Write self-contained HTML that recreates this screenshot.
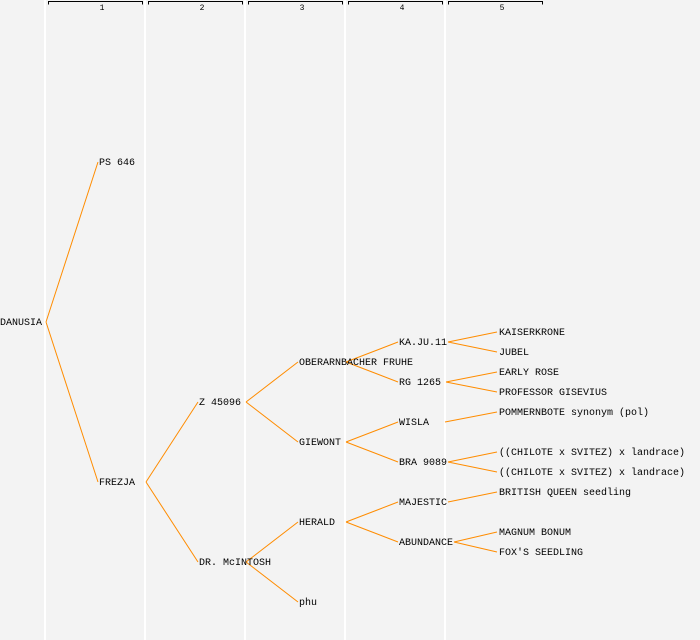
<!DOCTYPE html>
<html><head><style>
body{margin:0;background:#f3f3f3;}
svg{display:block}
text{font-family:"Liberation Mono",monospace;font-size:10px;fill:#000}
</style></head><body>
<svg width="700" height="640" xmlns="http://www.w3.org/2000/svg">
<rect width="700" height="640" fill="#f3f3f3"/>
<g stroke="#fff" stroke-width="2">
<line x1="45" y1="0" x2="45" y2="640"/><line x1="145" y1="0" x2="145" y2="640"/><line x1="245" y1="0" x2="245" y2="640"/><line x1="345" y1="0" x2="345" y2="640"/><line x1="445" y1="0" x2="445" y2="640"/>
</g>
<g stroke="#000" stroke-width="1" fill="none">
<path d="M48.5 4.5V1.5H142.5V4.5"/><path d="M148.5 4.5V1.5H242.5V4.5"/><path d="M248.5 4.5V1.5H342.5V4.5"/><path d="M348.5 4.5V1.5H442.5V4.5"/><path d="M448.5 4.5V1.5H542.5V4.5"/>
</g>
<g text-anchor="middle">
<text x="102" y="10" style="font-size:8px">1</text><text x="202" y="10" style="font-size:8px">2</text><text x="302" y="10" style="font-size:8px">3</text><text x="402" y="10" style="font-size:8px">4</text><text x="502" y="10" style="font-size:8px">5</text>
</g>
<g stroke="#ff8c00" stroke-width="1" fill="none">
<path d="M46 322L98 162M46 322L98 482"/>
<path d="M146 482L198 402M146 482L198 562"/>
<path d="M246 402L298 362M246 402L298 442"/>
<path d="M246 562L298 522M246 562L298 602"/>
<path d="M346 362L398 342M346 362L398 382"/>
<path d="M346 442L398 422M346 442L398 462"/>
<path d="M346 522L398 502M346 522L398 542"/>
<path d="M448 342L497 332M448 342L497 352"/>
<path d="M446 382L497 372M446 382L497 392"/>
<path d="M445 422L497 412"/>
<path d="M448 462L497 452M448 462L497 472"/>
<path d="M448 502L497 492"/>
<path d="M454 542L497 532M454 542L497 552"/>
</g>
<g>
<text x="0" y="325">DANUSIA</text>
<text x="99" y="165">PS 646</text>
<text x="99" y="485">FREZJA</text>
<text x="199" y="405">Z 45096</text>
<text x="199" y="565">DR. McINTOSH</text>
<text x="299" y="365">OBERARNBACHER FRUHE</text>
<text x="299" y="445">GIEWONT</text>
<text x="299" y="525">HERALD</text>
<text x="299" y="605">phu</text>
<text x="399" y="345">KA.JU.11</text>
<text x="399" y="385">RG 1265</text>
<text x="399" y="425">WISLA</text>
<text x="399" y="465">BRA 9089</text>
<text x="399" y="505">MAJESTIC</text>
<text x="399" y="545">ABUNDANCE</text>
<text x="499" y="335">KAISERKRONE</text>
<text x="499" y="355">JUBEL</text>
<text x="499" y="375">EARLY ROSE</text>
<text x="499" y="395">PROFESSOR GISEVIUS</text>
<text x="499" y="415">POMMERNBOTE synonym (pol)</text>
<text x="499" y="455">((CHILOTE x SVITEZ) x landrace)</text>
<text x="499" y="475">((CHILOTE x SVITEZ) x landrace)</text>
<text x="499" y="495">BRITISH QUEEN seedling</text>
<text x="499" y="535">MAGNUM BONUM</text>
<text x="499" y="555">FOX'S SEEDLING</text>
</g>
</svg>
</body></html>
